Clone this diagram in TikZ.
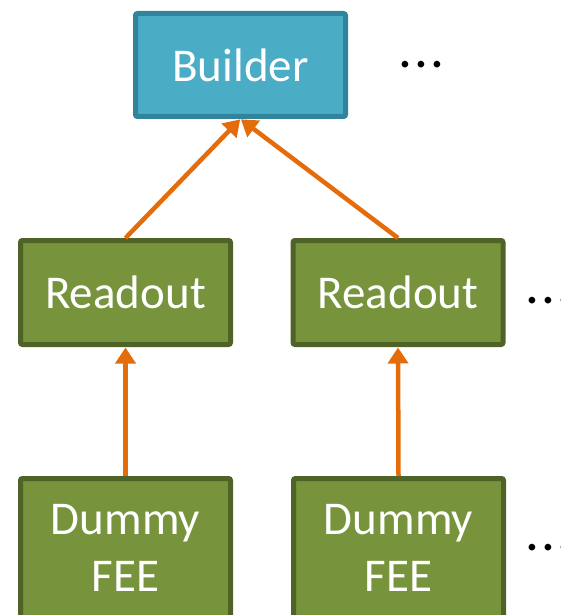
\documentclass[tikz,border=0pt]{standalone}
\usepackage{fontspec}
\setmainfont{Carlito}
\usetikzlibrary{arrows.meta}

\definecolor{tealfill}{HTML}{4BACC6}
\definecolor{tealline}{HTML}{31849B}
\definecolor{greenfill}{HTML}{77933C}
\definecolor{greenline}{HTML}{4F6228}
\definecolor{flow}{HTML}{E46C0A}

% widely spaced ellipsis
\newcommand{\moredots}{.\kern2.2pt.\kern2.2pt.}

\tikzset{
  box/.style={draw, line width=5pt, rounded corners=2pt, minimum width=210pt,
    text=white, align=center, inner sep=0pt,
    font=\fontsize{47}{57}\selectfont},
  builderbox/.style={box, fill=tealfill, draw=tealline, minimum height=103pt},
  stagebox/.style={box, fill=greenfill, draw=greenline},
  flowarrow/.style={draw=flow, line width=4.5pt,
    -{Triangle[length=16pt,width=20pt]}, shorten >=0.5pt},
  more/.style={anchor=base west, inner sep=0pt, font=\fontsize{55}{60}\selectfont}
}

\begin{document}
\begin{tikzpicture}[x=1pt,y=-1pt]
  \useasboundingbox (0,0) rectangle (560,615);
  \clip (0,0) rectangle (560,615);

  % event builder
  \node[builderbox] (b) at (240.5,65) {Builder};

  % readout stage
  \node[stagebox, minimum height=104pt] (r1) at (125.5,292.5) {Readout};
  \node[stagebox, minimum height=104pt] (r2) at (398,292.5) {Readout};

  % front-end emulators
  \node[stagebox, minimum height=139pt] (d1) at (125.5,548) {Dummy\\FEE};
  \node[stagebox, minimum height=139pt] (d2) at (398.5,548) {Dummy\\FEE};

  % continuation marks
  \node[more] (m1) at (398.5,67.5) {\moredots};
  \node[more] (m2) at (525,303.5) {\moredots};
  \node[more] (m3) at (525,550.5) {\moredots};

  % data flow
  \draw[flowarrow] (r1.north) -- (b.south);
  \draw[flowarrow] (r2.north) -- (b.south);
  \draw[flowarrow] (d1.north) -- (r1.south);
  \draw[flowarrow] (d2.north) -- (r2.south);
\end{tikzpicture}
\end{document}
